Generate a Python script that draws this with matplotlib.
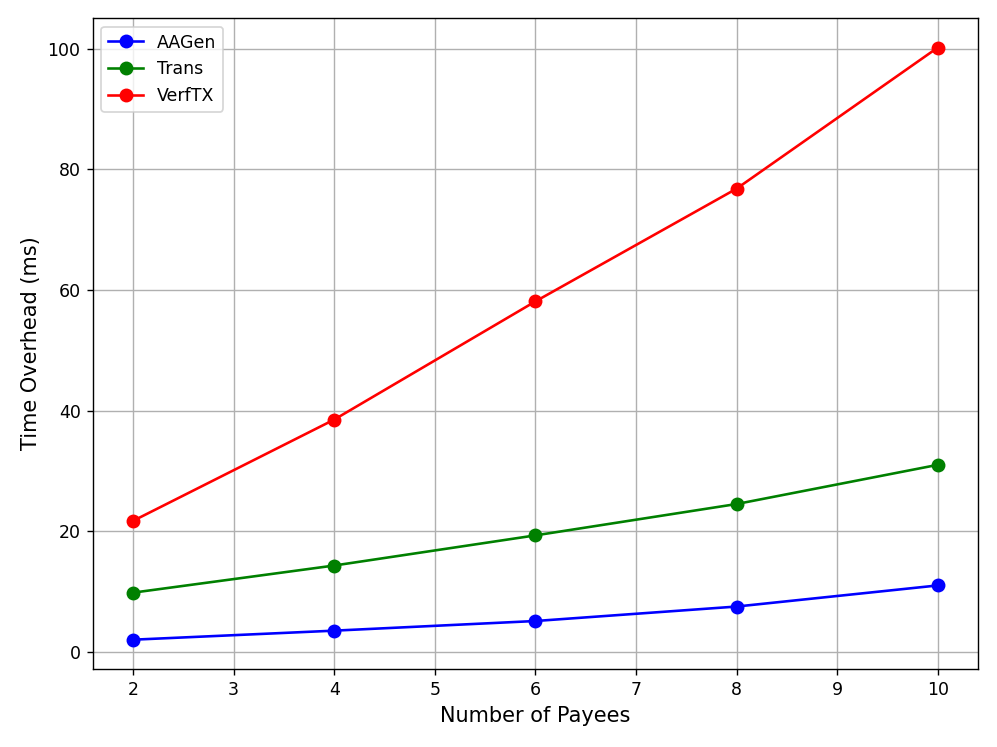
import matplotlib
matplotlib.use("Agg")
import matplotlib.pyplot as plt

payees = [2, 4, 6, 8, 10]
aagen = [2.0, 3.5, 5.1, 7.5, 11.0]
trans = [9.8, 14.3, 19.3, 24.5, 31.0]
verftx = [21.7, 38.5, 58.1, 76.8, 100.2]

fig = plt.figure(figsize=(997 / 125, 747 / 125), dpi=125)
ax = fig.add_subplot(111)
ax.plot(payees, aagen, "o-", color="blue", markersize=7, label="AAGen")
ax.plot(payees, trans, "o-", color="green", markersize=7, label="Trans")
ax.plot(payees, verftx, "o-", color="red", markersize=7, label="VerfTX")

ax.set_xlabel("Number of Payees", fontsize=12)
ax.set_ylabel("Time Overhead (ms)", fontsize=12)
ax.grid(True)
ax.legend(loc="upper left")
fig.subplots_adjust(left=0.093, right=0.981, top=0.976, bottom=0.104)
fig.savefig("out.png", dpi=125)
